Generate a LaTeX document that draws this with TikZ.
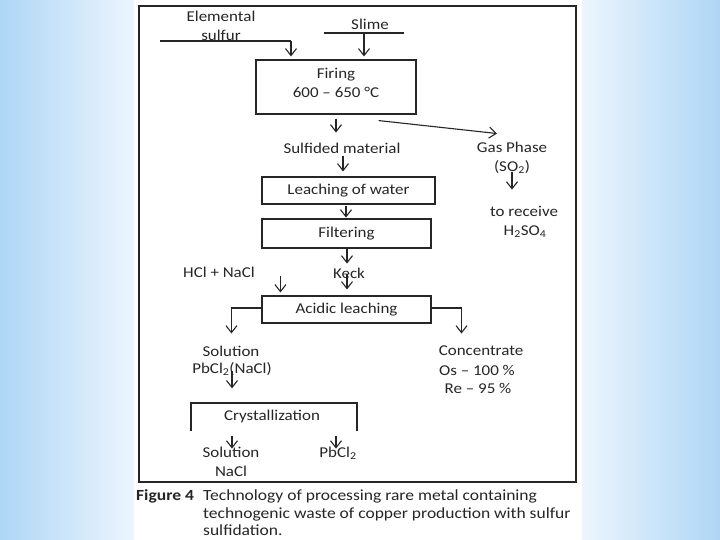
\documentclass[tikz,border=0pt]{standalone}
\usepackage{fontspec}
\setmainfont[FakeStretch=1.13]{Carlito}
\usetikzlibrary{arrows.meta,calc}
\definecolor{ink}{RGB}{38,38,38}
\definecolor{bgblue}{RGB}{174,214,245}
\definecolor{bglight}{RGB}{236,245,253}
\begin{document}
\begin{tikzpicture}[x=1pt,y=-1pt,
  font=\fontsize{15}{19}\selectfont,
  box/.style={draw=ink, line width=1.1pt, inner sep=0pt},
  lbl/.style={text=ink, inner sep=0pt, align=center},
  arr/.style={draw=ink, line width=1.1pt, -{Straight Barb[length=7pt,width=11pt,line width=1.1pt]}},
  ln/.style={draw=ink, line width=1.1pt}]
\useasboundingbox (0,0) rectangle (720,540);
% background
\shade[left color=bgblue, right color=bglight] (0,0) rectangle (134,540);
\shade[left color=bglight, right color=bgblue] (582,0) rectangle (720,540);
\fill[white] (134,0) rectangle (582,540);
\draw[ink, line width=1.1pt] (139,6) rectangle (576,482);

% boxes
\node[box, minimum width=160, minimum height=54] (firing) at (336,87) {};
\node[lbl] (firingtxt) at (336,82.5) {Firing\\600 – 650 °C};
\node[box, minimum width=173, minimum height=27] (leach) at (348.5,190.5) {};
\node[lbl] (leachtxt) at (leach) {Leaching of water};
\node[box, minimum width=169, minimum height=29] (filter) at (346.5,233.5) {};
\node[lbl] (filtertxt) at (filter) {Filtering};
\node[box, minimum width=169, minimum height=27] (acid) at (346.5,309.5) {};
\node[lbl] (acidtxt) at (acid) {Acidic leaching};

% labels
\node[lbl] (elem) at (221,26) {Elemental\\sulfur};
\node[lbl] (slime) at (370,24) {Slime};
\node[lbl] (sulfided) at (342,148) {Sulfided material};
\node[lbl] (gas1) at (512,147) {Gas Phase};
\node[lbl] (gas2) at (512,167) {(SO\textsubscript{2})};
\node[lbl] (recv1) at (524,211) {to receive};
\node[lbl] (recv2) at (525,232) {H\textsubscript{2}SO\textsubscript{4}};
\node[lbl] (keck) at (349,273) {Keck};
\node[lbl] (hcl) at (219,272) {HCl + NaCl};
\node[lbl] (sol1) at (231,351) {Solution};
\node[lbl] (pb1) at (232,369) {PbCl\textsubscript{2}(NaCl)};
\node[lbl] (conc1) at (481,351) {Concentrate};
\node[lbl] (conc2) at (477,370) {Os – 100 \%};
\node[lbl] (conc3) at (478,388) {Re – 95 \%};
\node[lbl] (cryst) at (272,416) {Crystallization};
\node[lbl] (sol2) at (231,452) {Solution};
\node[lbl] (nacl) at (231,471) {NaCl};
\node[lbl] (pb2) at (338,453) {PbCl\textsubscript{2}};

% caption
\node[lbl, anchor=west, font=\fontsize{15.5}{18}\selectfont\bfseries] (figno) at (136,496) {Figure 4};
\node[lbl, anchor=west, font=\fontsize{15.5}{18}\selectfont] (cap1) at (203,496) {Technology of processing rare metal containing};
\node[lbl, anchor=west, font=\fontsize{15.5}{18}\selectfont] (cap2) at (203,514) {technogenic waste of copper production with sulfur};
\node[lbl, anchor=west, font=\fontsize{15.5}{18}\selectfont] (cap3) at (203,530) {sulfidation.};

% inputs
\coordinate (e1) at (160,41);
\coordinate (e2) at (291,41);
\draw[ln] (e1) -- (e2);
\draw[arr, shorten >=3pt] (e2) -- (e2 |- firing.north);
\coordinate (s1) at (324,33);
\coordinate (s2) at (404,33);
\coordinate (s3) at (364,33);
\draw[ln] (s1) -- (s2);
\draw[arr, shorten >=3pt] (s3) -- (s3 |- firing.north);

% main chain
\draw[arr] (firing.south) ++(0,4) -- ++(0,14);
\draw[arr] ($(firing.south east)+(-38,6)$) -- ($(gas1.north)+(-15,-8)$);
\draw[arr] (leach.north) ++(-5.5,-20) -- ++(0,15);
\draw[arr] (leach.south) ++(-2.5,1) -- ++(0,12);
\draw[arr] (filter.south) ++(0.5,0) -- ++(0,15);
\draw[arr] (acid.north) ++(0.5,-21) -- ++(0,15);
\draw[arr] (acid.north west) ++(19,-19) -- ++(0,16);
\draw[arr] (recv1.north) ++(-12,-34) -- ++(0,18);

% acidic leaching outputs
\draw[arr] (acid.west) ++(0,-1.5) -- ++(-30,0) -- ++(0,25.5);
\draw[arr] (acid.east) ++(0,-1.5) -- ++(30,0) -- ++(0,25.5);
\draw[arr] (cryst.north) ++(-40,-38) -- ++(0,17);

% crystallization bracket
\draw[ln] ($(cryst)+(-81,15)$) -- ($(cryst)+(-81,-13)$) -- ($(cryst)+(85,-13)$) -- ($(cryst)+(85,15)$);
\draw[arr] (cryst.south) ++(-40,13) -- ++(0,13);
\draw[arr] (cryst.south) ++(64,13) -- ++(0,13);
\end{tikzpicture}
\end{document}
